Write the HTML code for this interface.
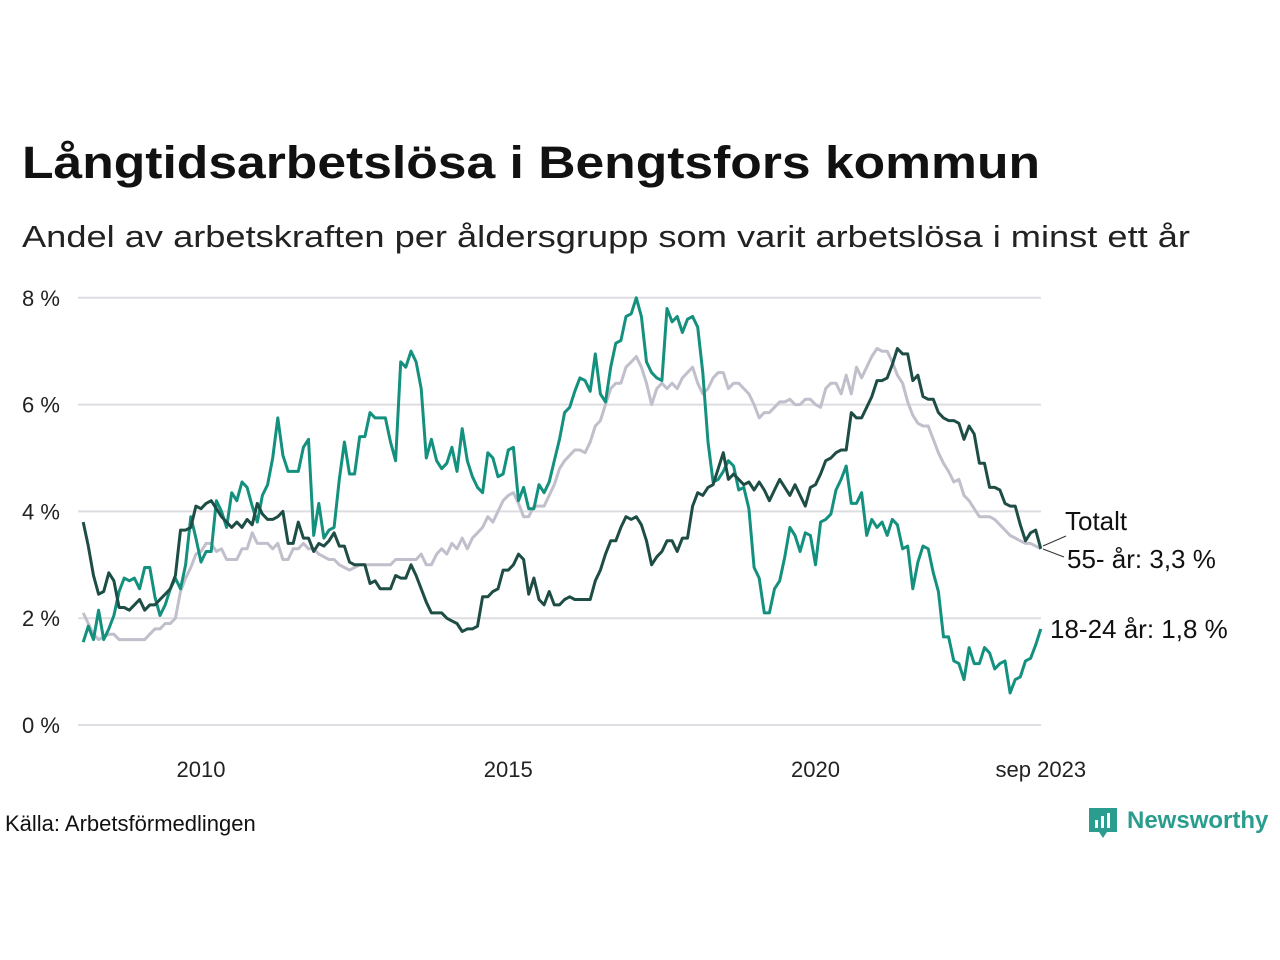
<!DOCTYPE html>
<html><head><meta charset="utf-8"><style>
body{margin:0;background:#fff;}
svg{display:block;font-family:"Liberation Sans",sans-serif;}
</style></head><body>
<svg id="c" width="1280" height="960">
<text x="22" y="178" font-size="45" font-weight="bold" fill="#111" textLength="1018" lengthAdjust="spacingAndGlyphs">Långtidsarbetslösa i Bengtsfors kommun</text>
<text x="22" y="247" font-size="31" fill="#222" textLength="1168" lengthAdjust="spacingAndGlyphs">Andel av arbetskraften per åldersgrupp som varit arbetslösa i minst ett år</text>
<g id="grid"></g>
<g id="lines"></g>
<line x1="1043" y1="546" x2="1066" y2="536" stroke="#333" stroke-width="1"/>
<line x1="1043" y1="549" x2="1064" y2="557" stroke="#333" stroke-width="1"/>
<text x="1065" y="530" font-size="26" fill="#111">Totalt</text>
<text x="1067" y="568" font-size="26" fill="#111">55- år: 3,3 %</text>
<text x="1050" y="638" font-size="26" fill="#111">18-24 år: 1,8 %</text>
<text x="5" y="831" font-size="22" fill="#111">Källa: Arbetsförmedlingen</text>
<g>
<path d="M1089 808 h28 v24 h-10 l-4 6 l-4 -6 h-10 z" fill="#2a9d8f"/>
<rect x="1095" y="820" width="3" height="8" fill="#fff"/><rect x="1101" y="816" width="3" height="12" fill="#fff"/><rect x="1107" y="813" width="3" height="15" fill="#fff"/>
<text x="1127" y="828" font-size="24" font-weight="bold" fill="#2a9d8f">Newsworthy</text>
</g>
</svg>
<script>
const yTicks=[0,2,4,6,8];
const yTickLabels=["0 %","2 %","4 %","6 %","8 %"];
const xTicks=[2010,2015,2020,2023+8/12];
const xTickLabels=["2010","2015","2020","sep 2023"];
const startYear=2008+1/12;
const teal=[1.55,1.85,1.6,2.15,1.6,1.8,2.05,2.5,2.75,2.7,2.75,
2.55,2.95,2.95,2.4,2.05,2.25,2.55,2.75,2.55,3.0,3.9,3.5,
3.05,3.25,3.25,4.2,4.0,3.7,4.35,4.2,4.55,4.45,4.1,3.8,
4.3,4.5,5.0,5.75,5.05,4.75,4.75,4.75,5.2,5.35,3.55,4.15,
3.5,3.65,3.7,4.6,5.3,4.7,4.7,5.4,5.4,5.85,5.75,5.75,
5.75,5.3,4.95,6.8,6.7,7.0,6.8,6.3,5.0,5.35,4.95,4.8,
4.9,5.2,4.75,5.55,4.95,4.65,4.45,4.35,5.1,5.0,4.65,4.7,
5.15,5.2,4.2,4.45,4.05,4.05,4.5,4.35,4.55,4.95,5.35,5.85,
5.95,6.25,6.5,6.45,6.25,6.95,6.2,6.05,6.7,7.15,7.2,7.65,
7.7,8.0,7.65,6.8,6.6,6.5,6.45,7.8,7.55,7.65,7.35,7.6,
7.65,7.45,6.6,5.3,4.55,4.6,4.75,4.95,4.85,4.4,4.45,4.05,
2.95,2.75,2.1,2.1,2.55,2.7,3.15,3.7,3.55,3.25,3.6,3.55,
3.0,3.8,3.85,3.95,4.4,4.6,4.85,4.15,4.15,4.35,3.55,3.85,
3.7,3.8,3.55,3.85,3.75,3.3,3.35,2.55,3.05,3.35,3.3,2.85,
2.5,1.65,1.65,1.2,1.15,0.85,1.45,1.15,1.15,1.45,1.35,1.05,
1.15,1.2,0.6,0.85,0.9,1.2,1.25,1.5,1.8];
const age55=[3.8,3.35,2.8,2.45,2.5,2.85,2.7,2.2,2.2,2.15,2.25,
2.35,2.15,2.25,2.25,2.35,2.45,2.55,2.8,3.65,3.65,3.7,4.1,
4.05,4.15,4.2,4.05,3.9,3.8,3.7,3.8,3.7,3.85,3.75,4.15,
3.95,3.85,3.85,3.9,4.0,3.4,3.4,3.8,3.5,3.5,3.25,3.4,
3.35,3.45,3.6,3.35,3.35,3.05,3.0,3.0,3.0,2.65,2.7,2.55,
2.55,2.55,2.8,2.75,2.75,3.0,2.8,2.55,2.3,2.1,2.1,2.1,
2.0,1.95,1.9,1.75,1.8,1.8,1.85,2.4,2.4,2.5,2.55,2.9,
2.9,3.0,3.2,3.1,2.45,2.75,2.35,2.25,2.5,2.25,2.25,2.35,
2.4,2.35,2.35,2.35,2.35,2.7,2.9,3.2,3.45,3.45,3.7,3.9,
3.85,3.9,3.75,3.45,3.0,3.15,3.25,3.45,3.45,3.25,3.5,3.5,
4.1,4.35,4.3,4.45,4.5,4.8,5.1,4.6,4.7,4.6,4.5,4.55,
4.4,4.55,4.4,4.2,4.4,4.6,4.45,4.3,4.5,4.3,4.1,4.45,
4.5,4.7,4.95,5.0,5.1,5.15,5.15,5.85,5.75,5.75,5.95,6.15,
6.45,6.45,6.5,6.75,7.05,6.95,6.95,6.45,6.55,6.15,6.1,6.1,
5.85,5.75,5.7,5.7,5.65,5.35,5.6,5.45,4.9,4.9,4.45,4.45,
4.4,4.15,4.1,4.1,3.75,3.45,3.6,3.65,3.3];
const total=[2.1,1.9,1.7,1.6,1.65,1.7,1.7,1.6,1.6,1.6,1.6,
1.6,1.6,1.7,1.8,1.8,1.9,1.9,2.0,2.5,2.75,2.95,3.2,
3.25,3.4,3.4,3.25,3.3,3.1,3.1,3.1,3.3,3.3,3.6,3.4,
3.4,3.4,3.3,3.4,3.1,3.1,3.3,3.3,3.4,3.3,3.3,3.2,
3.15,3.1,3.1,3.0,2.95,2.9,2.95,3.0,3.0,3.0,3.0,3.0,
3.0,3.0,3.1,3.1,3.1,3.1,3.1,3.2,3.0,3.0,3.2,3.3,
3.2,3.4,3.3,3.5,3.3,3.5,3.6,3.7,3.9,3.8,4.0,4.2,
4.3,4.35,4.15,3.9,3.9,4.1,4.1,4.1,4.3,4.5,4.8,4.95,
5.05,5.15,5.15,5.1,5.3,5.6,5.7,6.0,6.3,6.4,6.4,6.7,
6.8,6.9,6.7,6.4,6.0,6.3,6.4,6.3,6.4,6.3,6.5,6.6,
6.7,6.4,6.2,6.3,6.5,6.6,6.6,6.3,6.4,6.4,6.3,6.2,
6.0,5.75,5.85,5.85,5.95,6.05,6.05,6.1,6.0,6.0,6.1,6.1,
6.0,5.95,6.3,6.4,6.4,6.2,6.55,6.2,6.7,6.5,6.7,6.9,
7.05,7.0,7.0,6.8,6.55,6.4,6.05,5.8,5.65,5.6,5.6,5.35,
5.1,4.9,4.75,4.55,4.6,4.3,4.2,4.05,3.9,3.9,3.9,3.85,
3.75,3.65,3.55,3.5,3.45,3.4,3.4,3.35,3.3];
const NS="http://www.w3.org/2000/svg";
const X=t=>201+(t-2010)*61.45;
const Y=v=>725-v*53.4;
const grid=document.getElementById('grid'),lines=document.getElementById('lines');
yTicks.forEach((v,i)=>{
 const l=document.createElementNS(NS,'line');
 l.setAttribute('x1',78);l.setAttribute('x2',1041);l.setAttribute('y1',Y(v));l.setAttribute('y2',Y(v));
 l.setAttribute('stroke','#dedde2');l.setAttribute('stroke-width',2);
 
 
 grid.appendChild(l);
 const t=document.createElementNS(NS,'text');
 t.setAttribute('x',22);t.setAttribute('y',Y(v)+8);t.setAttribute('font-size',22);t.setAttribute('fill','#222');
 t.textContent=yTickLabels[i];
 
 
 grid.appendChild(t);
});
xTicks.forEach((v,i)=>{
 const t=document.createElementNS(NS,'text');
 t.setAttribute('x',X(v));t.setAttribute('y',777);t.setAttribute('font-size',22);t.setAttribute('fill','#222');t.setAttribute('text-anchor','middle');
 t.textContent=xTickLabels[i];
 
 
 grid.appendChild(t);
});
function draw(arr,color,name){
 const p=document.createElementNS(NS,'polyline');
 p.setAttribute('points',arr.map((v,i)=>X(startYear+i/12).toFixed(1)+','+Y(v).toFixed(1)).join(' '));
 p.setAttribute('fill','none');p.setAttribute('stroke',color);p.setAttribute('stroke-width',3);p.setAttribute('stroke-linejoin','round');
 
 
 lines.appendChild(p);
}
draw(total,'#c0bfcb','line-totalt');
draw(teal,'#14907f','line-18-24');
draw(age55,'#1e4d45','line-55');
</script>
</body></html>
